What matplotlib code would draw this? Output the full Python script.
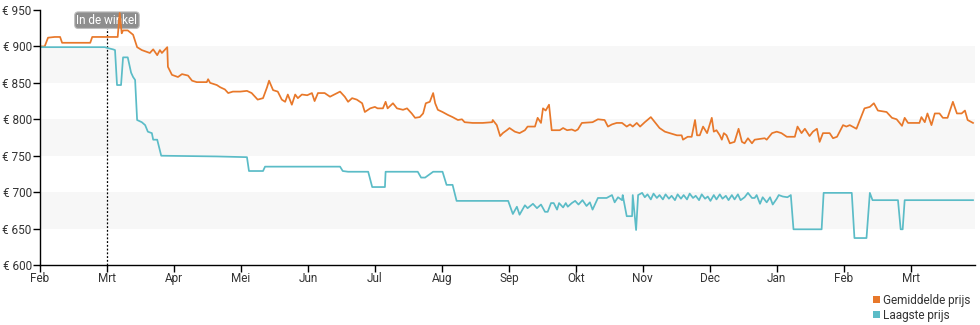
import matplotlib
matplotlib.use("Agg")
import matplotlib.pyplot as plt
from matplotlib.patches import Patch

plt.rcParams['font.family'] = ['Roboto', 'DejaVu Sans']

month_labels = ['Feb', 'Mrt', 'Apr', 'Mei', 'Jun', 'Jul', 'Aug', 'Sep', 'Okt', 'Nov', 'Dec', 'Jan', 'Feb', 'Mrt']
y_ticks = [600, 650, 700, 750, 800, 850, 900, 950]

# x positions in months since the first Feb tick
avg_x = [0.00, 0.07, 0.12, 0.22, 0.30, 0.33, 0.75, 0.78, 1.16, 1.19, 1.22, 1.24, 1.31, 1.39, 1.45, 1.52,
         1.64, 1.69, 1.75, 1.79, 1.82, 1.90, 1.91, 1.97, 2.06, 2.12, 2.21, 2.27, 2.34, 2.49, 2.51, 2.54,
         2.64, 2.69, 2.76, 2.81, 2.88, 2.99, 3.09, 3.16, 3.21, 3.25, 3.33, 3.39, 3.42, 3.48, 3.55, 3.61,
         3.66, 3.70, 3.76, 3.81, 3.85, 3.91, 3.99, 4.06, 4.10, 4.15, 4.25, 4.33, 4.48, 4.55, 4.60, 4.66,
         4.73, 4.81, 4.85, 4.93, 5.00, 5.04, 5.12, 5.16, 5.19, 5.27, 5.33, 5.42, 5.48, 5.55, 5.60, 5.67,
         5.72, 5.76, 5.82, 5.87, 5.90, 5.94, 6.01, 6.09, 6.16, 6.24, 6.30, 6.34, 6.46, 6.61, 6.75, 6.76,
         6.82, 6.87, 6.91, 6.97, 7.01, 7.09, 7.16, 7.24, 7.28, 7.39, 7.43, 7.48, 7.51, 7.55, 7.60, 7.64,
         7.76, 7.81, 7.87, 7.94, 7.99, 8.03, 8.09, 8.25, 8.33, 8.43, 8.48, 8.54, 8.61, 8.69, 8.76, 8.81,
         8.85, 8.91, 8.96, 9.03, 9.12, 9.18, 9.25, 9.33, 9.40, 9.51, 9.58, 9.60, 9.67, 9.73, 9.78, 9.81,
         9.85, 9.90, 9.96, 10.03, 10.06, 10.10, 10.15, 10.18, 10.21, 10.25, 10.30, 10.37, 10.43, 10.48,
         10.52, 10.57, 10.63, 10.67, 10.75, 10.82, 10.85, 10.93, 11.00, 11.07, 11.15, 11.27, 11.31, 11.37,
         11.42, 11.49, 11.54, 11.60, 11.64, 11.69, 11.79, 11.84, 11.90, 11.94, 11.99, 12.04, 12.09, 12.19,
         12.31, 12.39, 12.45, 12.51, 12.64, 12.72, 12.79, 12.87, 12.91, 12.96, 13.13, 13.16, 13.21, 13.25,
         13.31, 13.36, 13.43, 13.48, 13.55, 13.63, 13.69, 13.76, 13.81, 13.85, 13.93]
avg_price = [900, 900, 912, 913, 913, 905, 905, 913, 913, 946, 918, 922, 922, 916, 899, 895,
             891, 896, 888, 895, 891, 899, 872, 861, 858, 862, 860, 853, 851, 851, 855, 850,
             847, 844, 841, 836, 838, 838, 839, 836, 831, 827, 829, 844, 853, 840, 838, 827,
             824, 834, 820, 834, 829, 834, 833, 836, 825, 836, 836, 831, 838, 831, 824, 829,
             827, 822, 810, 815, 817, 815, 815, 824, 815, 822, 815, 813, 815, 808, 802, 803,
             808, 822, 824, 836, 822, 813, 810, 806, 803, 799, 800, 796, 795, 795, 796, 799,
             792, 777, 781, 785, 788, 783, 781, 785, 790, 790, 802, 795, 815, 812, 820, 785,
             785, 788, 785, 786, 784, 786, 795, 796, 800, 799, 790, 793, 795, 795, 790, 793,
             790, 795, 790, 796, 803, 796, 788, 783, 781, 778, 778, 772, 776, 776, 799, 778,
             778, 790, 781, 802, 783, 785, 778, 772, 781, 778, 767, 769, 787, 769,
             767, 774, 767, 772, 773, 774, 772, 781, 783, 781, 776, 776, 790, 781,
             787, 777, 783, 787, 769, 781, 781, 774, 776, 783, 792, 790, 792, 787,
             815, 817, 822, 812, 810, 802, 800, 791, 802, 795, 795, 803, 796, 808,
             792, 808, 808, 802, 802, 824, 808, 808, 812, 799, 795]

low_x = [0.00, 0.97, 1.00, 1.09, 1.12, 1.15, 1.21, 1.24, 1.31, 1.36, 1.39, 1.42, 1.45, 1.52, 1.57, 1.61,
         1.67, 1.69, 1.75, 1.81, 2.64, 3.09, 3.12, 3.33, 3.36, 4.48, 4.52, 4.60, 4.90, 4.96, 5.15, 5.16,
         5.64, 5.69, 5.75, 5.87, 6.01, 6.07, 6.16, 6.22, 6.99, 7.06, 7.12, 7.16, 7.24, 7.28, 7.36, 7.42,
         7.48, 7.54, 7.58, 7.63, 7.67, 7.72, 7.75, 7.81, 7.85, 7.88, 7.94, 7.99, 8.04, 8.10, 8.16, 8.21,
         8.25, 8.33, 8.46, 8.54, 8.58, 8.63, 8.69, 8.70, 8.76, 8.84, 8.85, 8.90, 8.93, 8.99, 9.03, 9.07,
         9.12, 9.16, 9.21, 9.25, 9.30, 9.34, 9.39, 9.43, 9.48, 9.52, 9.57, 9.61, 9.66, 9.70, 9.75, 9.79,
         9.84, 9.88, 9.93, 9.97, 10.01, 10.06, 10.10, 10.15, 10.19, 10.24, 10.28, 10.33, 10.37, 10.42,
         10.46, 10.52, 10.57, 10.63, 10.67, 10.70, 10.75, 10.79, 10.85, 10.90, 10.94, 11.00, 11.03, 11.09,
         11.16, 11.21, 11.25, 11.67, 11.70, 12.12, 12.16, 12.34, 12.39, 12.43, 12.81, 12.85, 12.88, 12.91,
         13.93]
low_price = [899, 899, 898, 896, 895, 847, 847, 885, 885, 864, 858, 854, 799, 796, 792, 783,
             781, 772, 772, 750, 749, 748, 729, 729, 735, 735, 729, 728, 728, 707, 707, 728,
             728, 720, 720, 728, 728, 710, 710, 688, 688, 670, 680, 669, 682, 678, 684, 678,
             683, 673, 673, 685, 685, 676, 685, 679, 685, 680, 685, 688, 683, 689, 681, 686,
             676, 692, 692, 696, 686, 693, 689, 696, 667, 667, 696, 648, 696, 699, 693, 697,
             690, 698, 692, 696, 690, 697, 691, 695, 689, 697, 691, 696, 690, 698, 692, 695,
             689, 697, 691, 694, 688, 696, 690, 697, 691, 695, 689, 696, 690, 697,
             689, 693, 699, 692, 692, 696, 684, 693, 686, 693, 683, 691, 696, 694,
             693, 696, 649, 649, 699, 699, 637, 637, 699, 689, 689, 649, 649, 689,
             689]

orange = '#e8782a'
teal = '#5bbcc7'

fig = plt.figure(figsize=(9.8, 3.25), dpi=100)
ax = fig.add_axes([40 / 980, 1 - 265 / 325, 935 / 980, 255 / 325])

for lo, hi in [(850, 900), (750, 800), (650, 700)]:
    ax.axhspan(lo, hi, color='#f7f7f7', zorder=0, lw=0)

ax.plot(avg_x, avg_price, color=orange, lw=1.25, zorder=4)
ax.plot(low_x, low_price, color=teal, lw=1.25, zorder=4)

ax.axvline(1, color='black', lw=0.9, ls=(0, (1.5, 1.5)), zorder=2)
ax.text(1, 936, 'In de winkel', ha='center', va='center', color='white', fontsize=8.5, zorder=3,
        bbox=dict(boxstyle='round,pad=0.15,rounding_size=0.3', fc='#8e8e8e', ec='#bdbdbd', lw=0.8))

ax.set_xlim(0, 13.96)
ax.set_ylim(600, 950)
ax.set_xticks(range(len(month_labels)))
ax.set_xticklabels(month_labels)
ax.set_yticks(y_ticks)
ax.set_yticklabels([f'€ {v}' for v in y_ticks])

for s in ['top', 'right']:
    ax.spines[s].set_visible(False)
for s in ['left', 'bottom']:
    ax.spines[s].set_color('black')
    ax.spines[s].set_linewidth(1.0)
    ax.spines[s].set_zorder(5)
ax.tick_params(axis='both', direction='out', length=5, width=1, color='black',
               labelsize=8.5, labelcolor='#333333', pad=1)
ax.tick_params(axis='x', pad=0)

handles = [Patch(facecolor=orange, label='Gemiddelde prijs'),
           Patch(facecolor=teal, label='Laagste prijs')]
leg = fig.legend(handles=handles, loc='upper right', bbox_to_anchor=(0.997, 0.118), frameon=False,
                 fontsize=8.5, handlelength=0.55, handleheight=0.55, handletextpad=0.25,
                 labelspacing=0.15, borderpad=0.1)
for t in leg.get_texts():
    t.set_color('#333333')

fig.savefig('out.png', dpi=100)
